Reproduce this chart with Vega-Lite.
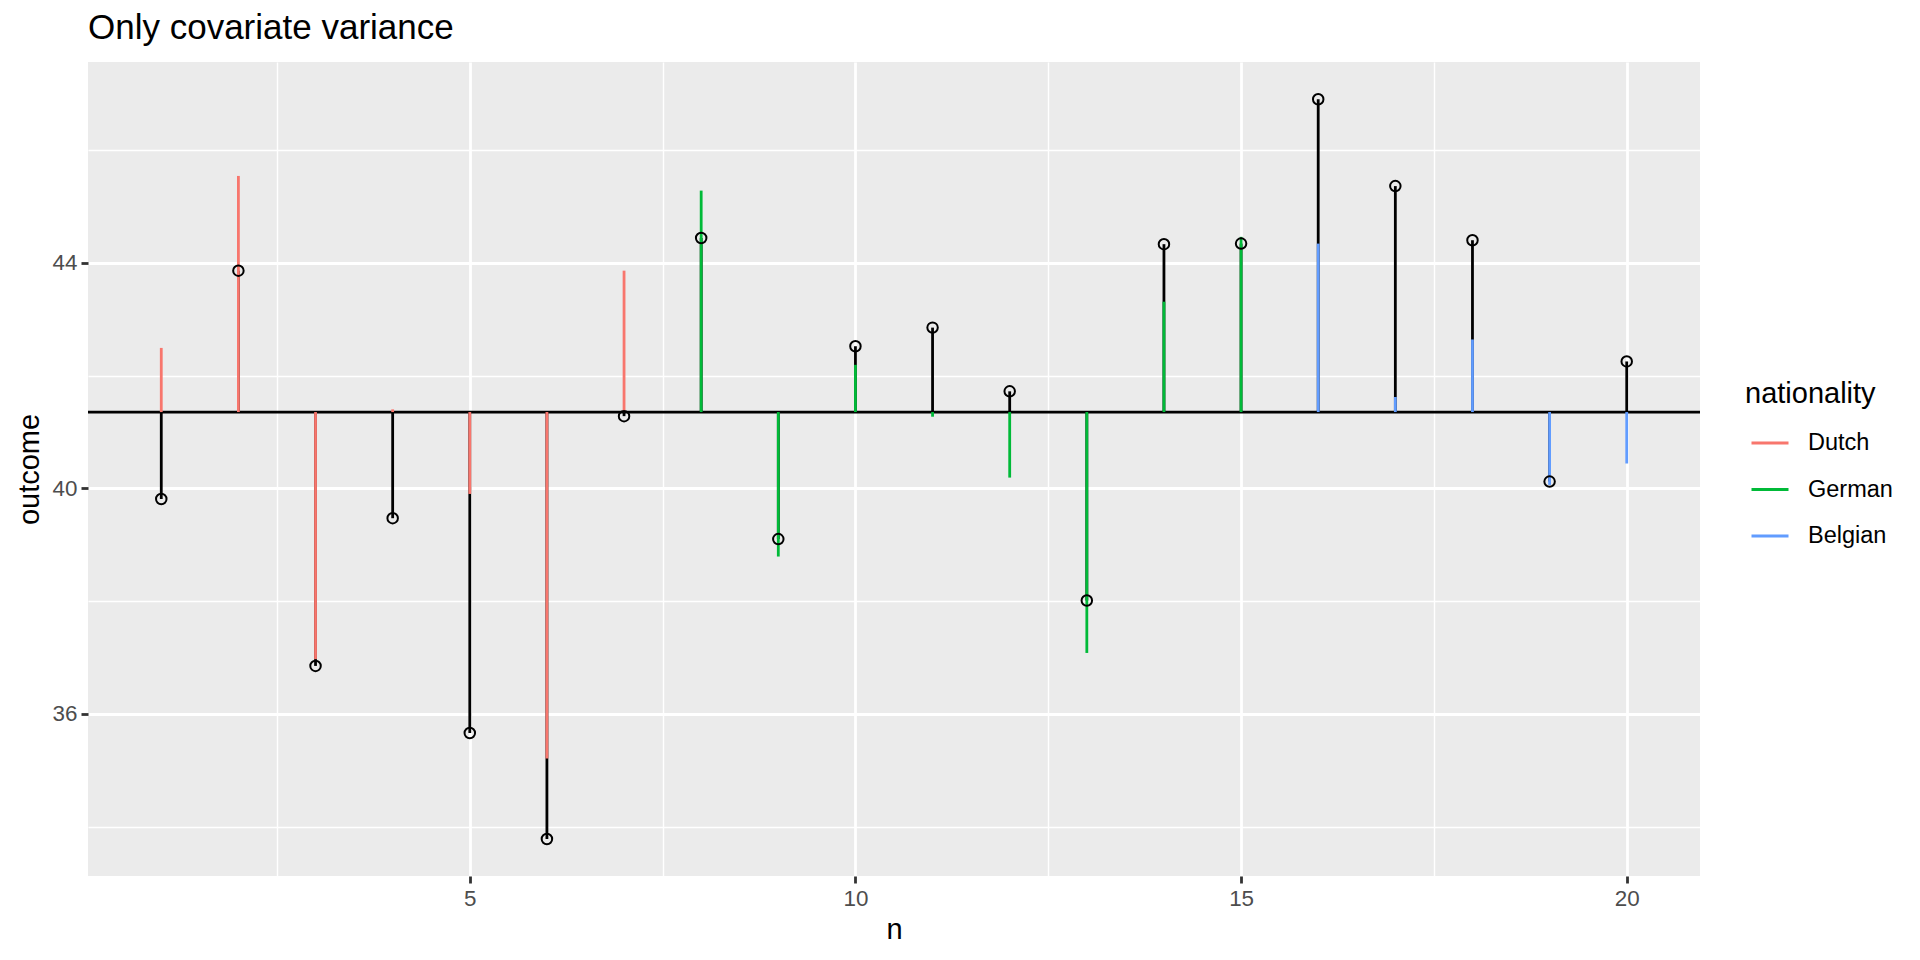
{
  "$schema": "https://vega.github.io/schema/vega-lite/v6.json",
  "width": 1612,
  "height": 814,
  "autosize": {"type": "none"},
  "padding": {"left": 88, "top": 62, "right": 220, "bottom": 84},
  "background": "white",
  "title": {"text": "Only covariate variance", "anchor": "start", "frame": "group", "font": "Liberation Sans", "fontSize": 35, "fontWeight": "normal", "color": "black", "baseline": "alphabetic", "offset": 23, "dy": 35},
  "data": {"values": [
    {"n": 1, "nationality": "Dutch", "outcome": 39.81, "predicted": 42.49},
    {"n": 2, "nationality": "Dutch", "outcome": 43.86, "predicted": 45.54},
    {"n": 3, "nationality": "Dutch", "outcome": 36.85, "predicted": 36.97},
    {"n": 4, "nationality": "Dutch", "outcome": 39.47, "predicted": 41.4},
    {"n": 5, "nationality": "Dutch", "outcome": 35.66, "predicted": 39.9},
    {"n": 6, "nationality": "Dutch", "outcome": 33.78, "predicted": 35.21},
    {"n": 7, "nationality": "Dutch", "outcome": 41.28, "predicted": 43.86},
    {"n": 8, "nationality": "German", "outcome": 44.44, "predicted": 45.28},
    {"n": 9, "nationality": "German", "outcome": 39.1, "predicted": 38.79},
    {"n": 10, "nationality": "German", "outcome": 42.52, "predicted": 42.19},
    {"n": 11, "nationality": "German", "outcome": 42.85, "predicted": 41.27},
    {"n": 12, "nationality": "German", "outcome": 41.72, "predicted": 40.19},
    {"n": 13, "nationality": "German", "outcome": 38.01, "predicted": 37.08},
    {"n": 14, "nationality": "German", "outcome": 44.33, "predicted": 43.31},
    {"n": 15, "nationality": "German", "outcome": 44.34, "predicted": 44.46},
    {"n": 16, "nationality": "Belgian", "outcome": 46.9, "predicted": 44.34},
    {"n": 17, "nationality": "Belgian", "outcome": 45.36, "predicted": 41.62},
    {"n": 18, "nationality": "Belgian", "outcome": 44.4, "predicted": 42.64},
    {"n": 19, "nationality": "Belgian", "outcome": 40.12, "predicted": 40.06},
    {"n": 20, "nationality": "Belgian", "outcome": 42.25, "predicted": 40.44}
  ]},
  "layer": [
    {
      "transform": [{"aggregate": [{"op": "mean", "field": "outcome", "as": "mean"}]}],
      "mark": {"type": "rule", "color": "black", "strokeWidth": 2.8},
      "encoding": {
        "y": {"field": "mean", "type": "quantitative", "title": "outcome",
          "scale": {"domain": [33.124, 47.561], "nice": false, "zero": false},
          "axis": {
            "values": [34, 36, 38, 40, 42, 44, 46],
            "format": ".0f",
            "labelExpr": "datum.value % 4 === 0 ? datum.label : ''",
            "gridColor": "white",
            "gridWidth": {"condition": {"test": "datum.value % 4 === 0", "value": 2.8}, "value": 1.4},
            "tickOpacity": {"condition": {"test": "datum.value % 4 === 0", "value": 1}, "value": 0},
            "domain": false, "tickColor": "#333333", "tickWidth": 2.8, "tickSize": 7,
            "labelFont": "Liberation Sans", "labelFontSize": 22.4, "labelColor": "#4D4D4D", "labelPadding": 4,
            "titleFont": "Liberation Sans", "titleFontSize": 29, "titleFontWeight": "normal", "titleColor": "black", "titlePadding": 8,
            "labelFlush": false, "labelOverlap": false
          }
        }
      }
    },
    {
      "transform": [{"joinaggregate": [{"op": "mean", "field": "outcome", "as": "mean"}]}],
      "mark": {"type": "rule", "color": "black", "strokeWidth": 2.8},
      "encoding": {
        "x": {"field": "n", "type": "quantitative", "title": "n",
          "scale": {"domain": [0.05, 20.95], "nice": false, "zero": false},
          "axis": {
            "values": [2.5, 5, 7.5, 10, 12.5, 15, 17.5, 20],
            "format": ".0f",
            "labelExpr": "datum.value % 5 === 0 ? datum.label : ''",
            "gridColor": "white",
            "gridWidth": {"condition": {"test": "datum.value % 5 === 0", "value": 2.8}, "value": 1.4},
            "tickOpacity": {"condition": {"test": "datum.value % 5 === 0", "value": 1}, "value": 0},
            "domain": false, "tickColor": "#333333", "tickWidth": 2.8, "tickSize": 7,
            "labelFont": "Liberation Sans", "labelFontSize": 22.4, "labelColor": "#4D4D4D", "labelPadding": 4,
            "titleFont": "Liberation Sans", "titleFontSize": 29, "titleFontWeight": "normal", "titleColor": "black", "titlePadding": 6,
            "labelFlush": false, "labelOverlap": false
          }
        },
        "y": {"field": "mean", "type": "quantitative", "title": "outcome"},
        "y2": {"field": "outcome"}
      }
    },
    {
      "transform": [{"joinaggregate": [{"op": "mean", "field": "outcome", "as": "mean"}]}],
      "mark": {"type": "rule", "strokeWidth": 2.8},
      "encoding": {
        "x": {"field": "n", "type": "quantitative", "title": "n"},
        "y": {"field": "mean", "type": "quantitative", "title": "outcome"},
        "y2": {"field": "predicted"},
        "color": {"field": "nationality", "type": "nominal",
          "scale": {"domain": ["Dutch", "German", "Belgian"], "range": ["#F8766D", "#00BA38", "#619CFF"]},
          "legend": {
            "orient": "none", "legendX": 1657, "legendY": 318,
            "title": "nationality", "titleFont": "Liberation Sans", "titleFontSize": 29, "titleFontWeight": "normal", "titleColor": "black", "titlePadding": 14,
            "labelFont": "Liberation Sans", "labelFontSize": 23.5, "labelColor": "black", "labelOffset": 18,
            "symbolType": "stroke", "symbolSize": 1369, "symbolStrokeWidth": 2.8, "symbolOffset": 5, "rowPadding": 14.5, "padding": 0
          }
        }
      }
    },
    {
      "mark": {"type": "point", "shape": "circle", "filled": false, "color": "black", "strokeWidth": 2, "size": 110, "opacity": 1},
      "encoding": {
        "x": {"field": "n", "type": "quantitative", "title": "n"},
        "y": {"field": "outcome", "type": "quantitative", "title": "outcome"}
      }
    }
  ],
  "config": {
    "view": {"fill": "#EBEBEB", "stroke": null},
    "font": "Liberation Sans"
  }
}
